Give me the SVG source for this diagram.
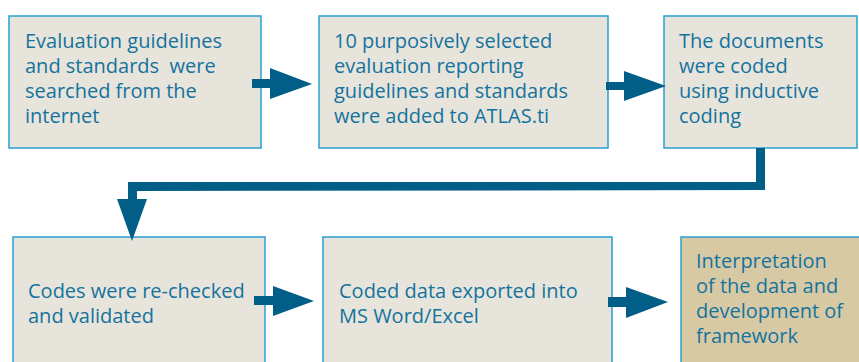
<svg xmlns="http://www.w3.org/2000/svg" width="859" height="362" viewBox="0 0 859 362">
  <style>
    .box { fill: #E7E4DC; stroke: #2A9FD2; stroke-width: 1.5; }
    .box.final { fill: #D8C9A5; }
    .lbl { font-family: "Open Sans", "Liberation Sans", sans-serif; font-size: 20px; fill: #14739D; white-space: pre; }
    .flow { fill: #005E87; }
  </style>
  <rect width="859" height="362" fill="#FFFFFF"/>

  <g id="n1">
    <rect class="box" x="9" y="16" width="252" height="132"/>
    <text class="lbl">
      <tspan x="25" y="48">Evaluation guidelines</tspan>
      <tspan x="25" y="73">and standards&#160; were</tspan>
      <tspan x="25" y="98">searched from the</tspan>
      <tspan x="25" y="123">internet</tspan>
    </text>
  </g>

  <g id="n2">
    <rect class="box" x="319" y="16" width="289" height="132"/>
    <text class="lbl">
      <tspan x="334" y="48">10 purposively selected</tspan>
      <tspan x="334" y="73">evaluation reporting</tspan>
      <tspan x="334" y="98">guidelines and standards</tspan>
      <tspan x="334" y="123">were added to ATLAS.ti</tspan>
    </text>
  </g>

  <g id="n3">
    <rect class="box" x="664" y="16" width="193" height="132"/>
    <text class="lbl">
      <tspan x="679" y="48">The documents</tspan>
      <tspan x="679" y="73">were coded</tspan>
      <tspan x="679" y="98">using inductive</tspan>
      <tspan x="679" y="123">coding</tspan>
    </text>
  </g>

  <g id="n4">
    <rect class="box" x="13" y="237" width="252" height="135"/>
    <text class="lbl">
      <tspan x="28" y="298">Codes were re-checked</tspan>
      <tspan x="28" y="323">and validated</tspan>
    </text>
  </g>

  <g id="n5">
    <rect class="box" x="323" y="237" width="289" height="135"/>
    <text class="lbl">
      <tspan x="339" y="298">Coded data exported into</tspan>
      <tspan x="339" y="323">MS Word/Excel</tspan>
    </text>
  </g>

  <g id="n6">
    <rect class="box final" x="681" y="237" width="190" height="135"/>
    <text class="lbl">
      <tspan x="696" y="268">Interpretation</tspan>
      <tspan x="696" y="293">of the data and</tspan>
      <tspan x="696" y="318">development of</tspan>
      <tspan x="696" y="343">framework</tspan>
    </text>
  </g>

  <g id="connectors">
    <!-- n1 to n2 -->
    <polygon class="flow" points="252,79 270,79 270,68 312,84 270,99 270,88 252,88"/>
    <!-- n2 to n3 -->
    <polygon class="flow" points="606,82 624,82 624,71 666,86 624,101 624,90 606,90"/>
    <!-- n3 down, across and into n4 -->
    <polygon class="flow" points="756,148 765,148 765,190 137,191 137,199 147,199 132,241 117,199 128,199 128,182 756,182"/>
    <!-- n4 to n5 -->
    <polygon class="flow" points="254,296 273,296 273,286 314,301 273,316 273,305 254,305"/>
    <!-- n5 to n6 -->
    <polygon class="flow" points="608,297 626,297 626,287 668,302 626,318 626,307 608,307"/>
  </g>
</svg>
